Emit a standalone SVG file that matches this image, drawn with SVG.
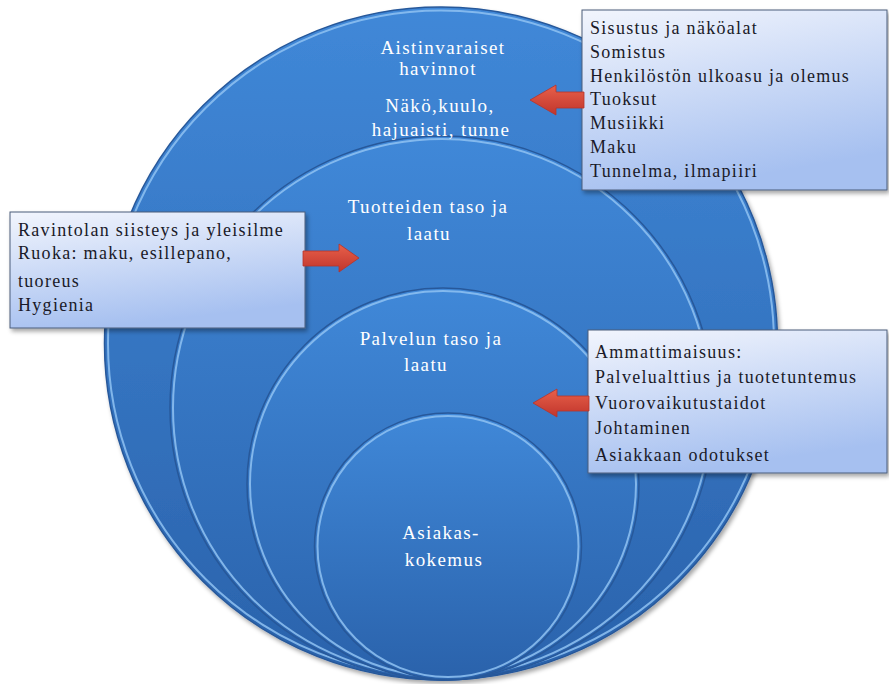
<svg xmlns="http://www.w3.org/2000/svg" width="889" height="684" viewBox="0 0 889 684">
<defs>
<linearGradient id="gc" x1="0" y1="0" x2="0" y2="1">
<stop offset="0" stop-color="#4088d8"/>
<stop offset="1" stop-color="#2a62ab"/>
</linearGradient>
<linearGradient id="gb" x1="0" y1="0" x2="0.3" y2="1">
<stop offset="0" stop-color="#f2f5fd"/>
<stop offset="1" stop-color="#a6c0f0"/>
</linearGradient>
<linearGradient id="ga" x1="0" y1="0" x2="0" y2="1">
<stop offset="0" stop-color="#e8604a"/>
<stop offset="1" stop-color="#c0352c"/>
</linearGradient>
<filter id="sh" x="-10%" y="-10%" width="120%" height="120%">
<feDropShadow dx="2" dy="3" stdDeviation="2" flood-color="#000" flood-opacity="0.35"/>
</filter>
</defs>
<style>
.c{fill:url(#gc);stroke:#27589a;stroke-width:1.5}
.hl{fill:none;stroke:#8fc2f2;stroke-width:2;opacity:0.85}
.ct{font-family:"Liberation Serif",serif;font-size:19px;fill:#ffffff;text-anchor:middle;letter-spacing:1.4px}
.box{fill:url(#gb);stroke:#4b5c7a;stroke-width:1;filter:url(#sh)}
.bt{font-family:"Liberation Serif",serif;font-size:18px;fill:#1a1a28;letter-spacing:1.3px}
.ar{fill:url(#ga);stroke:#b8322a;stroke-width:0.8}
</style>
<g id="circle-outer" filter="url(#sh)">
<circle class="c" cx="441" cy="343.5" r="336.5"/>
<circle class="hl" cx="441" cy="343.5" r="333"/>
</g>
<g id="circle-tuotteet">
<circle class="c" cx="442" cy="408" r="272"/>
<circle class="hl" cx="442" cy="408" r="269"/>
</g>
<g id="circle-palvelu">
<circle class="c" cx="443" cy="484" r="196"/>
<circle class="hl" cx="443" cy="484" r="193"/>
</g>
<g id="circle-asiakas">
<circle class="c" cx="448" cy="546.5" r="133.5"/>
<circle class="hl" cx="448" cy="546.5" r="130.5"/>
</g>
<g id="labels-circles">
<text class="ct" x="443" y="54">Aistinvaraiset</text>
<text class="ct" x="438" y="75">havinnot</text>
<text class="ct" x="440" y="112">Näkö,kuulo,</text>
<text class="ct" x="441" y="136">hajuaisti, tunne</text>
<text class="ct" x="428" y="213">Tuotteiden taso ja</text>
<text class="ct" x="429" y="240">laatu</text>
<text class="ct" x="431" y="345">Palvelun taso ja</text>
<text class="ct" x="426" y="371">laatu</text>
<text class="ct" x="441" y="539">Asiakas-</text>
<text class="ct" x="444" y="566">kokemus</text>
</g>
<g id="box-aistit">
<rect class="box" x="582" y="10" width="305" height="180"/>
<text class="bt" x="590" y="34">Sisustus ja näköalat</text>
<text class="bt" x="590" y="58">Somistus</text>
<text class="bt" x="590" y="82">Henkilöstön ulkoasu ja olemus</text>
<text class="bt" x="590" y="105">Tuoksut</text>
<text class="bt" x="590" y="129">Musiikki</text>
<text class="bt" x="590" y="153">Maku</text>
<text class="bt" x="590" y="177">Tunnelma, ilmapiiri</text>
</g>
<g id="box-tuotteet">
<rect class="box" x="10" y="212" width="295" height="116"/>
<text class="bt" x="18" y="236">Ravintolan siisteys ja yleisilme</text>
<text class="bt" x="18" y="259">Ruoka: maku, esillepano,</text>
<text class="bt" x="18" y="287">tuoreus</text>
<text class="bt" x="18" y="311">Hygienia</text>
</g>
<g id="box-palvelu">
<rect class="box" x="588" y="330" width="299" height="143"/>
<text class="bt" x="595" y="358">Ammattimaisuus:</text>
<text class="bt" x="595" y="383">Palvelualttius ja tuotetuntemus</text>
<text class="bt" x="595" y="409">Vuorovaikutustaidot</text>
<text class="bt" x="595" y="434">Johtaminen</text>
<text class="bt" x="595" y="461">Asiakkaan odotukset</text>
</g>
<g id="connectors">
<path class="ar" d="M530,100 L556,85 L556,92 L584,92 L584,108 L556,108 L556,115 Z"/>
<path class="ar" d="M359,258 L339,244 L339,251 L303,251 L303,266 L339,266 L339,272 Z"/>
<path class="ar" d="M533,403 L557,389 L557,396 L589,396 L589,411 L557,411 L557,417 Z"/>
</g>
</svg>
